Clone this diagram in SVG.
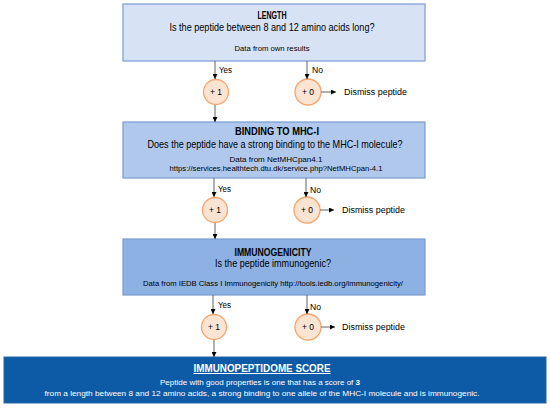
<svg xmlns="http://www.w3.org/2000/svg" width="550" height="409" viewBox="0 0 550 409">
<style>
text{font-family:"Liberation Sans",Arial,sans-serif;text-anchor:middle;fill:#000}
.h{font-weight:bold;font-size:10px}
.q{font-size:10.5px}
.d{font-size:7.5px}
.lbl{font-size:8.5px;text-anchor:start}
.box{stroke:#7a9bd0;stroke-width:1.2}
.circ{fill:#fce4d2;stroke:#f6a46b;stroke-width:1.3}
.ct{font-size:8.5px}
.con{stroke:#505050;stroke-width:0.9;fill:none;marker-end:url(#ah)}
.w{fill:#fff}
</style>
<defs>
<marker id="ah" viewBox="0 0 10 10" refX="10" refY="5" markerWidth="5" markerHeight="5" orient="auto" markerUnits="userSpaceOnUse"><path d="M0,0 L10,5 L0,10 z" fill="#000"/></marker>
</defs>
<g id="length">
<rect class="box" x="123" y="4" width="302" height="57" fill="#d7e3f5"/>
<text class="h" x="272" y="19" textLength="29" lengthAdjust="spacingAndGlyphs">LENGTH</text>
<text class="q" x="272" y="31" textLength="205" lengthAdjust="spacingAndGlyphs">Is the peptide between 8 and 12 amino acids long?</text>
<text class="d" x="272" y="51" textLength="75" lengthAdjust="spacingAndGlyphs">Data from own results</text>
</g>
<g id="binding">
<rect class="box" x="123" y="122" width="302" height="56" fill="#afc8ec"/>
<text class="h" x="277" y="135" textLength="84" lengthAdjust="spacingAndGlyphs">BINDING TO MHC-I</text>
<text class="q" x="275" y="148" textLength="255" lengthAdjust="spacingAndGlyphs">Does the peptide have a strong binding to the MHC-I molecule?</text>
<text class="d" x="276" y="162" textLength="93" lengthAdjust="spacingAndGlyphs">Data from NetMHCpan4.1</text>
<text class="d" x="276" y="171" textLength="213" lengthAdjust="spacingAndGlyphs">https://services.healthtech.dtu.dk/service.php?NetMHCpan-4.1</text>
</g>
<g id="immunogenicity">
<rect class="box" x="123" y="239" width="302" height="56" fill="#8db1e2"/>
<text class="h" x="273" y="256" textLength="77" lengthAdjust="spacingAndGlyphs">IMMUNOGENICITY</text>
<text class="q" x="273" y="267" textLength="116" lengthAdjust="spacingAndGlyphs">Is the peptide immunogenic?</text>
<text class="d" x="273" y="286" textLength="260" lengthAdjust="spacingAndGlyphs">Data from IEDB Class I Immunogenicity http://tools.iedb.org/immunogenicity/</text>
</g>
<g id="score">
<rect x="4" y="357" width="542" height="46" fill="#0d5aa7" stroke="#2a64a8" stroke-width="1"/>
<text class="h w" x="262" y="372" textLength="137" lengthAdjust="spacingAndGlyphs" text-decoration="underline">IMMUNOPEPTIDOME SCORE</text>
<text class="d w" x="260" y="385" textLength="200" lengthAdjust="spacingAndGlyphs">Peptide with good properties is one that has a score of <tspan font-weight="bold">3</tspan></text>
<text class="d w" x="262" y="396" textLength="435" lengthAdjust="spacingAndGlyphs">from a length between 8 and 12 amino acids, a strong binding to one allele of the MHC-I molecule and is immunogenic.</text>
</g>
<g id="c1yes"><circle class="circ" cx="216" cy="92" r="12.5"/><text class="ct" x="216" y="95">+ 1</text></g>
<g id="c1no"><circle class="circ" cx="308" cy="92" r="13"/><text class="ct" x="308" y="95">+ 0</text></g>
<g id="c2yes"><circle class="circ" cx="215" cy="210" r="12.5"/><text class="ct" x="215" y="213">+ 1</text></g>
<g id="c2no"><circle class="circ" cx="307" cy="210" r="13"/><text class="ct" x="307" y="213">+ 0</text></g>
<g id="c3yes"><circle class="circ" cx="214" cy="327" r="12.5"/><text class="ct" x="214" y="330">+ 1</text></g>
<g id="c3no"><circle class="circ" cx="308" cy="327" r="13"/><text class="ct" x="308" y="330">+ 0</text></g>
<g id="connectors">
<path class="con" d="M215,61 V79"/>
<path class="con" d="M307,61 V79"/>
<path class="con" d="M321,92 H336"/>
<path class="con" d="M215,105 V122"/>
<path class="con" d="M214,178 V197"/>
<path class="con" d="M306,178 V197"/>
<path class="con" d="M320,210 H334"/>
<path class="con" d="M215,223 V239"/>
<path class="con" d="M213,295 V314"/>
<path class="con" d="M307,295 V314"/>
<path class="con" d="M321,327 H335"/>
<path class="con" d="M214,340 V357"/>
<text class="lbl" x="219" y="73" textLength="13" lengthAdjust="spacingAndGlyphs">Yes</text>
<text class="lbl" x="312" y="73" textLength="11" lengthAdjust="spacingAndGlyphs">No</text>
<text class="lbl" x="344" y="95" textLength="63" lengthAdjust="spacingAndGlyphs">Dismiss peptide</text>
<text class="lbl" x="218" y="192" textLength="13" lengthAdjust="spacingAndGlyphs">Yes</text>
<text class="lbl" x="310" y="193" textLength="11" lengthAdjust="spacingAndGlyphs">No</text>
<text class="lbl" x="342" y="213" textLength="63" lengthAdjust="spacingAndGlyphs">Dismiss peptide</text>
<text class="lbl" x="218" y="308" textLength="13" lengthAdjust="spacingAndGlyphs">Yes</text>
<text class="lbl" x="310" y="310" textLength="11" lengthAdjust="spacingAndGlyphs">No</text>
<text class="lbl" x="342" y="330" textLength="63" lengthAdjust="spacingAndGlyphs">Dismiss peptide</text>
</g>
</svg>
